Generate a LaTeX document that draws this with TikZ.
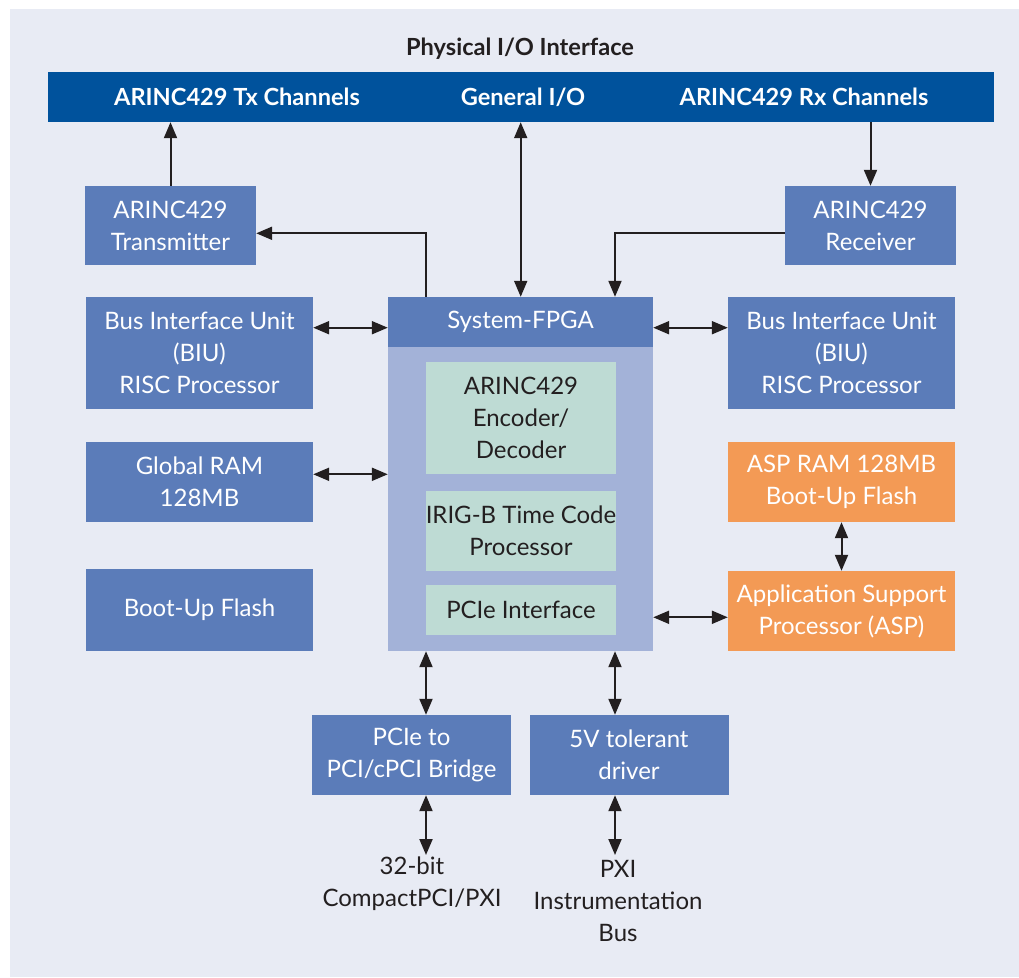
\documentclass[tikz,border=0pt]{standalone}
\usepackage{fontspec}
\setmainfont{Lato}
\usetikzlibrary{arrows.meta}
\definecolor{bgc}{HTML}{E8EBF4}
\definecolor{barc}{HTML}{00529C}
\definecolor{midc}{HTML}{5B7CB9}
\definecolor{bodyc}{HTML}{A3B2D8}
\definecolor{innerc}{HTML}{BEDBD4}
\definecolor{orngc}{HTML}{F39A55}
\definecolor{inkc}{HTML}{231F20}
\begin{document}
\begin{tikzpicture}[x=1pt,y=-1pt,
  txt/.style={font=\fontsize{24}{32}\selectfont},
  btxt/.style={font=\bfseries\fontsize{23.6}{32}\selectfont},
  blk/.style={txt,fill=midc,text=white,align=center,inner sep=0pt},
  ora/.style={blk,fill=orngc},
  inr/.style={txt,fill=innerc,text=inkc,align=center,inner sep=0pt},
  lbl/.style={txt,text=inkc,align=center,inner sep=0pt},
  conn/.style={line width=2pt,draw=inkc,-{Triangle[length=16pt,width=13pt]}},
  biconn/.style={line width=2pt,draw=inkc,{Triangle[length=16pt,width=13pt]}-{Triangle[length=16pt,width=13pt]}}
]
\useasboundingbox (0,0) rectangle (1019,977);
\fill[bgc] (10,9) rectangle (1019,977);

% title and top bar
\node[btxt,text=inkc] (title) at (520,49) {Physical I/O Interface};
\node[fill=barc,minimum width=946,minimum height=50,inner sep=0pt] (bar) at (521,97) {};
\node[btxt,text=white] (txch) at (237,97) {ARINC429 Tx Channels};
\node[btxt,text=white] (gio) at (523,97) {General I/O};
\node[btxt,text=white] (rxch) at (804,97) {ARINC429 Rx Channels};

% transmitter / receiver
\node[blk,minimum width=171,minimum height=79] (tx) at (170.5,225.5) {ARINC429\\Transmitter};
\node[blk,minimum width=171,minimum height=79] (rx) at (870.5,225.5) {ARINC429\\Receiver};

% FPGA
\node[fill=bodyc,minimum width=265,minimum height=304,inner sep=0pt] (fpga) at (520.5,499) {};
\node[blk,minimum width=265,minimum height=50] (fpgah) at (520.5,322) {System-FPGA};
\node[inr,minimum width=190,minimum height=112] (enc) at (521,418) {ARINC429\\Encoder/\\Decoder};
\node[inr,minimum width=190,minimum height=80] (irig) at (521,531) {IRIG-B Time Code\\Processor};
\node[inr,minimum width=190,minimum height=50] (pcie) at (521,610) {PCIe Interface};

% left column
\node[blk,minimum width=227,minimum height=112] (biul) at (199.5,353) {Bus Interface Unit\\(BIU)\\RISC Processor};
\node[blk,minimum width=227,minimum height=80] (gram) at (199.5,482) {Global RAM\\128MB};
\node[blk,minimum width=227,minimum height=82] (bflash) at (199.5,610) {Boot-Up Flash};

% right column
\node[blk,minimum width=227,minimum height=112] (biur) at (841.5,353) {Bus Interface Unit\\(BIU)\\RISC Processor};
\node[ora,minimum width=227,minimum height=80] (aspram) at (841.5,482) {ASP RAM 128MB\\Boot-Up Flash};
\node[ora,minimum width=227,minimum height=80] (asp) at (841.5,611) {Application Support\\Processor (ASP)};

% bottom
\node[blk,minimum width=199,minimum height=80] (bridge) at (411.5,755) {PCIe to\\PCI/cPCI Bridge};
\node[blk,minimum width=199,minimum height=80] (drv) at (629,755) {5V tolerant\\driver};
\node[lbl] (cpci) at (412,884) {32-bit\\CompactPCI/PXI};
\node[lbl] (pxi) at (618,901) {PXI\\Instrumentation\\Bus};

% helper coordinates
\coordinate (xL) at (426,0);
\coordinate (xR) at (615,0);
\coordinate (xG) at (520.7,0);
\coordinate (yT) at (0,233.3);
\coordinate (yB) at (0,327.7);
\coordinate (yR) at (0,474.3);
\coordinate (yA) at (0,617.3);
\coordinate (cpciTop) at (426,855);
\coordinate (pxiTop) at (615,855);

% connectors
\draw[conn] (tx.north) -- (tx.north |- bar.south);
\draw[conn] (fpgah.north -| xL) |- (tx.east |- yT);
\draw[biconn] (bar.south -| xG) -- (fpgah.north -| xG);
\draw[conn] (bar.south -| rx.north) -- (rx.north);
\draw[conn] (rx.west |- yT) -| (fpgah.north -| xR);
\draw[biconn] (biul.east |- yB) -- (fpgah.west |- yB);
\draw[biconn] (fpgah.east |- yB) -- (biur.west |- yB);
\draw[biconn] (gram.east |- yR) -- (fpga.west |- yR);
\draw[biconn] (fpga.east |- yA) -- (asp.west |- yA);
\draw[biconn] (aspram.south) -- (asp.north);
\draw[biconn] (fpga.south -| xL) -- (bridge.north -| xL);
\draw[biconn] (fpga.south -| xR) -- (drv.north -| xR);
\draw[biconn] (bridge.south -| xL) -- (cpciTop);
\draw[biconn] (drv.south -| xR) -- (pxiTop);
\end{tikzpicture}
\end{document}
